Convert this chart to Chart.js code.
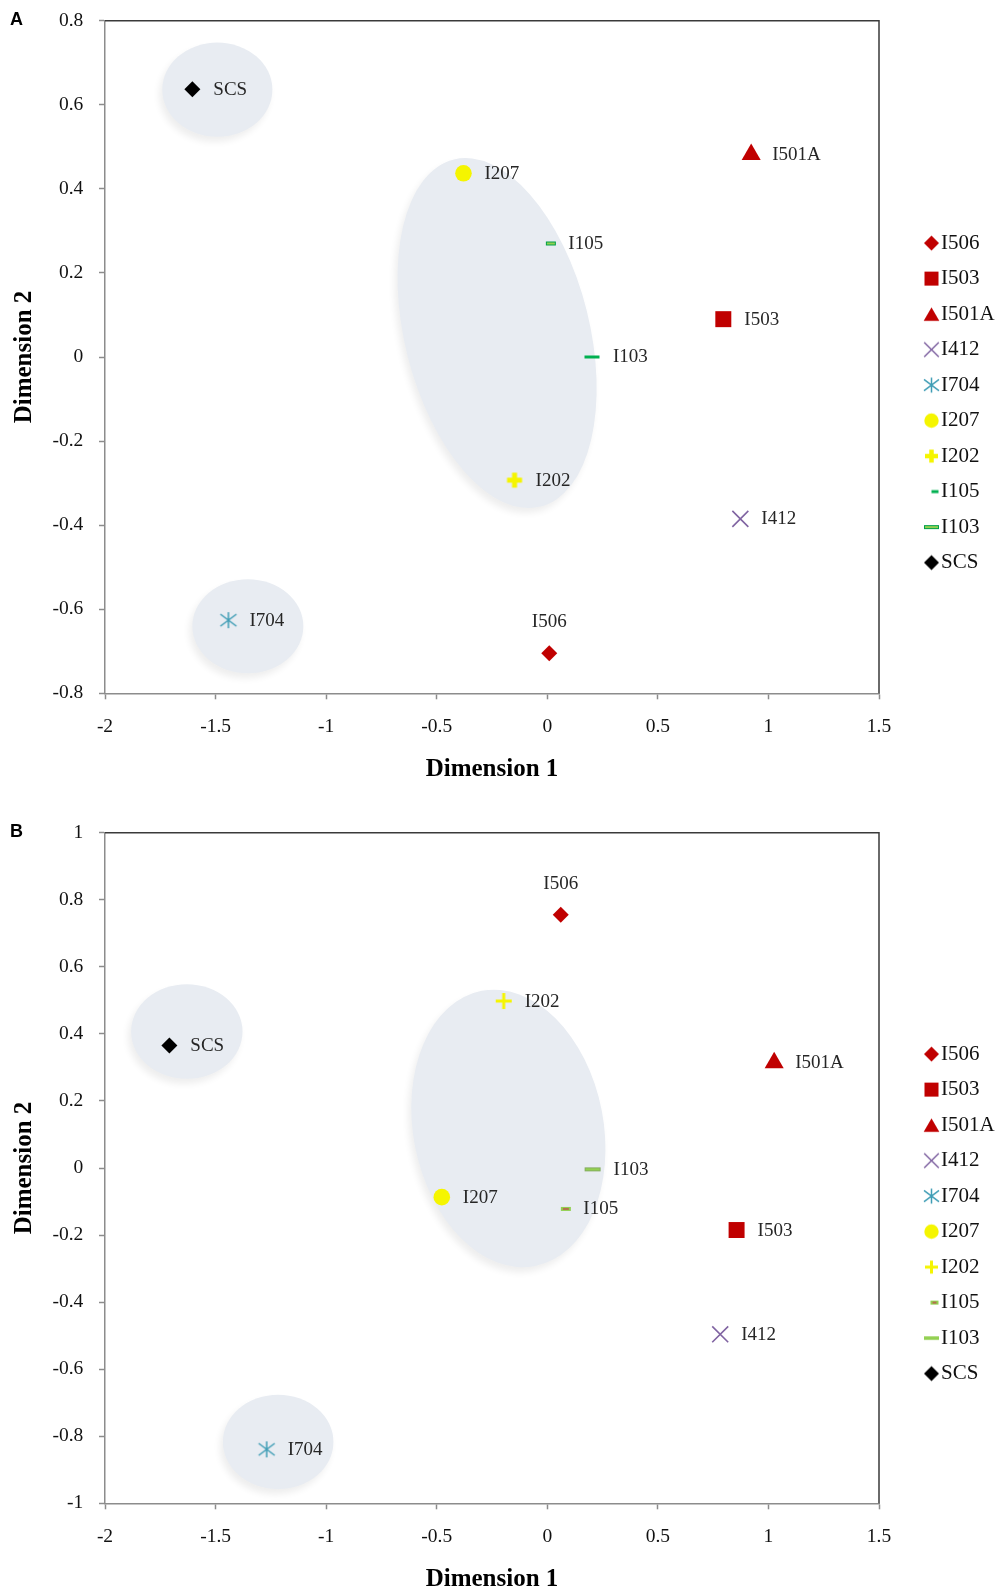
<!DOCTYPE html>
<html><head><meta charset="utf-8">
<script src="https://cdn.jsdelivr.net/npm/chart.js@4.4.1/dist/chart.umd.min.js"></script>
<style>
html,body{margin:0;padding:0;background:#fff;}
body{width:1001px;height:1595px;position:relative;overflow:hidden;}
.wrap{position:absolute;left:0;width:1001px;}
#wa{top:0;height:785px;}
#wb{top:800px;height:795px;}
canvas{display:block;}
</style></head><body>
<div class="wrap" id="wa"><canvas id="ca" width="1001" height="785"></canvas></div>
<div class="wrap" id="wb"><canvas id="cb" width="1001" height="795"></canvas></div>
<script>
// ---------- DATA ----------
const series = ['I506','I503','I501A','I412','I704','I207','I202','I105','I103','SCS'];
// Panel A coordinates
const xA = [0.009, 0.796, 0.922, 0.873, -1.442, -0.379, -0.148, 0.016, 0.202, -1.605];
const yA = [-0.705, 0.090, 0.482, -0.385, -0.626, 0.437, -0.293, 0.270, 0.000, 0.637];
// Panel B coordinates
const xB = [0.061, 0.856, 1.026, 0.782, -1.269, -0.477, -0.197, 0.084, 0.205, -1.709];
const yB = [0.755, -0.185, 0.314, -0.496, -0.839, -0.087, 0.498, -0.122, -0.004, 0.365];
// Axis ticks
const xTicks = [-2, -1.5, -1, -0.5, 0, 0.5, 1, 1.5];
const xTickLabels = ['-2', '-1.5', '-1', '-0.5', '0', '0.5', '1', '1.5'];
const yTicksA = [-0.8, -0.6, -0.4, -0.2, 0, 0.2, 0.4, 0.6, 0.8];
const yTickLabelsA = ['-0.8', '-0.6', '-0.4', '-0.2', '0', '0.2', '0.4', '0.6', '0.8'];
const yTicksB = [-1, -0.8, -0.6, -0.4, -0.2, 0, 0.2, 0.4, 0.6, 0.8, 1];
const yTickLabelsB = ['-1', '-0.8', '-0.6', '-0.4', '-0.2', '0', '0.2', '0.4', '0.6', '0.8', '1'];
// Cluster ellipses in data units: [centre x, centre y, half-width, half-height, rotation deg]
const ellipsesA = [[-1.492, 0.636, 0.249, 0.112, 0], [-1.354, -0.6405, 0.251, 0.112, 0], [-0.227, 0.057, 0.418, 0.4255, -14]];
const ellipsesB = [[-1.630, 0.407, 0.252, 0.141, 0], [-1.217, -0.817, 0.250, 0.141, 0], [-0.176, 0.118, 0.430, 0.418, -11]];

// ---------- STYLE ----------
Chart.defaults.font.family = '"Liberation Serif", "Times New Roman", serif';
const RED = '#c00000', PURPLE = '#8064a2', TEAL = '#3f9db5', YELLOW = '#f5f500',
      GREEN = '#00b050', LGREEN = '#92d050', DKRED = '#c0504d';

function mkCanvas(w, h, cx, cy, draw) {
  const c = document.createElement('canvas'); c.width = w; c.height = h;
  const g = c.getContext('2d'); g.translate(cx, cy); draw(g); return c;
}
const SH = {
  diamond: (r, col) => g => { g.beginPath(); g.moveTo(0, -r); g.lineTo(r, 0); g.lineTo(0, r); g.lineTo(-r, 0); g.closePath(); g.fillStyle = col; g.fill(); },
  square: (s, col) => g => { g.fillStyle = col; g.fillRect(-s / 2, -s / 2, s, s); },
  triangle: (w, h, col) => g => { g.beginPath(); g.moveTo(0, -h / 2); g.lineTo(w / 2, h / 2); g.lineTo(-w / 2, h / 2); g.closePath(); g.fillStyle = col; g.fill(); },
  xcross: (h, col, lw) => g => { g.strokeStyle = col; g.lineWidth = lw; g.beginPath(); g.moveTo(-h, -h); g.lineTo(h, h); g.moveTo(h, -h); g.lineTo(-h, h); g.stroke(); },
  asterisk: (h, col, lw) => g => { g.strokeStyle = col; g.lineWidth = lw; g.beginPath(); g.moveTo(-h, -h * 0.75); g.lineTo(h, h * 0.75); g.moveTo(h, -h * 0.75); g.lineTo(-h, h * 0.75); g.moveTo(0, -h); g.lineTo(0, h); g.stroke(); },
  circle: (r, col) => g => { g.beginPath(); g.arc(0, 0, r, 0, Math.PI * 2); g.fillStyle = col; g.fill(); },
  plus: (len, th, col) => g => { g.fillStyle = col; g.fillRect(-len / 2, -th / 2, len, th); g.fillRect(-th / 2, -len / 2, th, len); },
  dash: (w, h, fill, stroke, mid) => g => {
    g.fillStyle = fill; g.fillRect(-w / 2, -h / 2, w, h);
    if (stroke) { g.strokeStyle = stroke; g.lineWidth = 1; g.strokeRect(-w / 2 + 0.5, -h / 2 + 0.5, w - 1, h - 1); }
    if (mid) { g.fillStyle = mid; g.fillRect(-w / 2 + 2, -0.75, w - 4, 1.5); }
  }
};
const plotImg = d => mkCanvas(24, 24, 12, 12, d);
// legend images are offset to the right inside a wider canvas so the text sits close to the marker
const LDX = 19.5;
const legImg = (d, extra) => mkCanvas(64, 30, 32 + LDX + (extra || 0), 15, d);

const filled = (style, r, col) => ({ pointStyle: style, pointRadius: r, pointBackgroundColor: col, pointBorderColor: col, pointBorderWidth: 0 });
const img = c => ({ pointStyle: c, pointRadius: 6 });

const stylesA = [
  filled('rectRot', 8, RED),
  filled('rect', 11.3, RED),
  filled('triangle', 11, RED),
  { pointStyle: 'crossRot', pointRadius: 11.3, pointBorderColor: PURPLE, pointBorderWidth: 1.6, pointBackgroundColor: 'rgba(0,0,0,0)' },
  img(plotImg(SH.asterisk(8, TEAL, 1.5))),
  filled('circle', 8.3, YELLOW),
  img(plotImg(SH.plus(15, 5, YELLOW))),
  img(plotImg(SH.dash(10, 4, LGREEN, '#00a04a'))),
  img(plotImg(SH.dash(15, 3, GREEN))),
  filled('rectRot', 8, '#000')
];
const stylesB = [
  filled('rectRot', 8, RED),
  filled('rect', 11.3, RED),
  filled('triangle', 11, RED),
  { pointStyle: 'crossRot', pointRadius: 11.3, pointBorderColor: PURPLE, pointBorderWidth: 1.6, pointBackgroundColor: 'rgba(0,0,0,0)' },
  img(plotImg(SH.asterisk(8, TEAL, 1.5))),
  filled('circle', 8.3, YELLOW),
  img(plotImg(SH.plus(16, 3, YELLOW))),
  img(plotImg(SH.dash(10, 4, LGREEN, null, DKRED))),
  img(plotImg(SH.dash(16, 4, LGREEN, '#86ad62'))),
  filled('rectRot', 8, '#000')
];
const legendA = [
  legImg(SH.diamond(7.5, RED)),
  legImg(SH.square(14, RED)),
  legImg(SH.triangle(15.6, 13.5, RED)),
  legImg(SH.xcross(7.3, PURPLE, 1.5)),
  legImg(SH.asterisk(7.5, TEAL, 1.5)),
  legImg(SH.circle(7.2, YELLOW)),
  legImg(SH.plus(13, 4.5, YELLOW)),
  legImg(SH.dash(7, 3, GREEN), 3.5),
  legImg(SH.dash(15, 4, LGREEN, '#00a04a')),
  legImg(SH.diamond(7.5, '#000'))
];
const legendB = [
  legImg(SH.diamond(7.5, RED)),
  legImg(SH.square(14, RED)),
  legImg(SH.triangle(15.6, 13.5, RED)),
  legImg(SH.xcross(7.3, PURPLE, 1.5)),
  legImg(SH.asterisk(7.5, TEAL, 1.5)),
  legImg(SH.circle(7.2, YELLOW)),
  legImg(SH.plus(13, 3, YELLOW)),
  legImg(SH.dash(8, 4, LGREEN, null, DKRED), 3),
  legImg(SH.dash(15, 3.5, LGREEN)),
  legImg(SH.diamond(7.5, '#000'))
];
// label placement style: I506 above, the rest to the right
const labelAbove = { 'I506': true };
const labelGap = { 'I105': 17.5 };

// ---------- PLUGINS ----------
const ellipsePlugin = {
  id: 'ellipses',
  beforeDatasetsDraw(chart, args, opts) {
    const { ctx, scales: { x, y } } = chart;
    const kx = x.getPixelForValue(1) - x.getPixelForValue(0);
    const ky = y.getPixelForValue(0) - y.getPixelForValue(1);
    (opts.items || []).forEach(([cx, cy, rx, ry, rot]) => {
      ctx.save();
      ctx.shadowColor = 'rgba(0,0,0,0.07)'; ctx.shadowBlur = 7; ctx.shadowOffsetX = -3; ctx.shadowOffsetY = 5;
      ctx.beginPath();
      ctx.ellipse(x.getPixelForValue(cx), y.getPixelForValue(cy), rx * kx, ry * ky, rot * Math.PI / 180, 0, Math.PI * 2);
      ctx.fillStyle = '#e8ecf2'; ctx.fill();
      ctx.restore();
    });
    // dark top and right border of plot area
    const a = chart.chartArea;
    ctx.save(); ctx.strokeStyle = '#3a3a3a'; ctx.lineWidth = 1.5;
    ctx.beginPath(); ctx.moveTo(a.left, a.top); ctx.lineTo(a.right, a.top); ctx.lineTo(a.right, a.bottom); ctx.stroke();
    ctx.restore();
  }
};
const labelPlugin = {
  id: 'pointLabels',
  afterDatasetsDraw(chart, args, opts) {
    const ctx = chart.ctx;
    ctx.save();
    ctx.font = '19px "Liberation Serif"'; ctx.fillStyle = '#262626'; ctx.textBaseline = 'middle';
    chart.data.datasets.forEach((ds, i) => {
      chart.getDatasetMeta(i).data.forEach(pt => {
        if (labelAbove[ds.label]) { ctx.textAlign = 'center'; ctx.fillText(ds.label, pt.x, pt.y - 31); }
        else { ctx.textAlign = 'left'; ctx.fillText(ds.label, pt.x + (labelGap[ds.label] || 21), pt.y + 0.5); }
      });
    });
    // panel letter
    ctx.font = 'bold 18px "Liberation Sans"'; ctx.fillStyle = '#000'; ctx.textAlign = 'left'; ctx.textBaseline = 'alphabetic';
    ctx.fillText(opts.text, 10, opts.y);
    ctx.restore();
  }
};

function build(id, xs, ys, yTicks, yLabels, yMin, yMax, styles, legImgs, ellipses, padTop, letter, letterY) {
  const tickFont = { family: '"Liberation Serif"', size: 19.5 };
  const titleFont = { family: '"Liberation Serif"', size: 25, weight: 'bold', lineHeight: 1.2 };
  const grid = { drawOnChartArea: false, drawTicks: true, tickLength: 6, tickWidth: 1.5, tickColor: '#8c8c8c' };
  const border = { display: true, color: '#8c8c8c', width: 1.5 };
  return new Chart(document.getElementById(id), {
    type: 'scatter',
    data: { datasets: series.map((name, i) => Object.assign({ label: name, data: [{ x: xs[i], y: ys[i] }], clip: false }, styles[i])) },
    options: {
      responsive: false, animation: false, devicePixelRatio: 1, events: [],
      layout: { padding: { left: 0, top: padTop, right: 2, bottom: 0 }, autoPadding: false },
      scales: {
        x: {
          type: 'linear', min: -2, max: 1.5,
          afterBuildTicks: s => { s.ticks = xTicks.map(v => ({ value: v })); },
          afterFit: s => { s.height = 91.7; s.paddingLeft = 0; s.paddingRight = 0; },
          ticks: { callback: (v) => xTickLabels[xTicks.indexOf(v)], font: tickFont, color: '#111', padding: 15.7, maxRotation: 0, autoSkip: false },
          grid: grid, border: border,
          title: { display: true, text: 'Dimension 1', font: titleFont, color: '#000', padding: { top: 0, bottom: 0 } }
        },
        y: {
          type: 'linear', min: yMin, max: yMax,
          afterBuildTicks: s => { s.ticks = yTicks.map(v => ({ value: v })); },
          afterFit: s => { s.width = 105; s.paddingTop = 0; s.paddingBottom = 0; },
          ticks: { callback: (v) => yLabels[yTicks.indexOf(v)], font: tickFont, color: '#111', padding: 15.7, autoSkip: false },
          grid: grid, border: border,
          title: { display: true, text: 'Dimension 2', font: titleFont, color: '#000', padding: { top: 10, bottom: 0 } }
        }
      },
      plugins: {
        legend: {
          display: true, position: 'right', align: 'center', maxWidth: 120,
          labels: {
            usePointStyle: true, pointStyleWidth: 37, padding: 14.5,
            font: { family: '"Liberation Serif"', size: 21 }, color: '#111',
            generateLabels: () => series.map((s, i) => ({ text: s, pointStyle: legImgs[i], datasetIndex: i, hidden: false, lineWidth: 0, fillStyle: '#000', strokeStyle: '#000', fontColor: '#111' }))
          }
        },
        tooltip: { enabled: false },
        ellipses: { items: ellipses },
        pointLabels: { text: letter, y: letterY }
      }
    },
    plugins: [ellipsePlugin, labelPlugin]
  });
}

build('ca', xA, yA, yTicksA, yTickLabelsA, -0.8, 0.8, stylesA, legendA, ellipsesA, 20.7, 'A', 25.3);
build('cb', xB, yB, yTicksB, yTickLabelsB, -1, 1, stylesB, legendB, ellipsesB, 32.7, 'B', 36.7);
</script>
</body></html>
